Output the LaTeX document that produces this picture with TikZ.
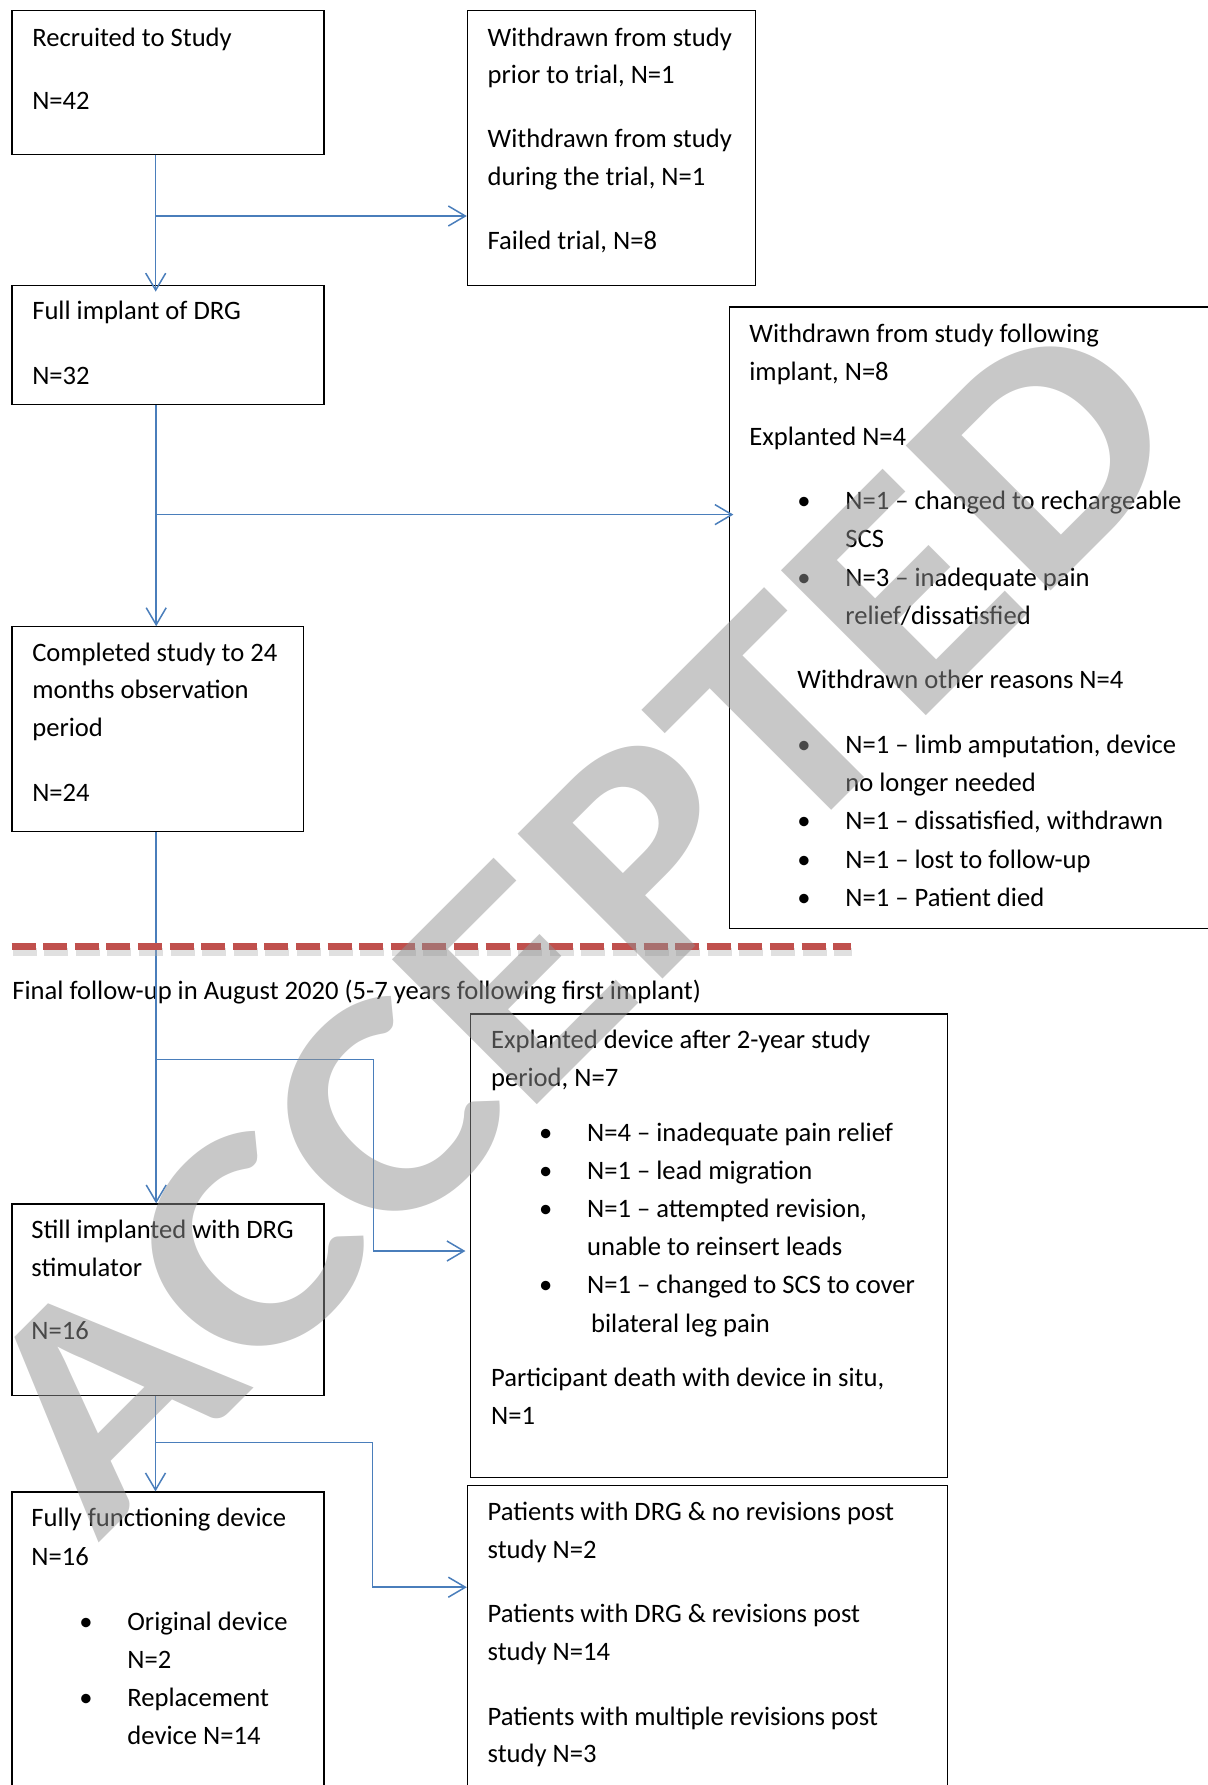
\documentclass[tikz,border=0pt]{standalone}
\usepackage{fontspec}
\setmainfont{Carlito}
\usepackage{tikz}
\usetikzlibrary{positioning,arrows.meta}

\definecolor{flowblue}{RGB}{74,126,187}
\definecolor{cutred}{RGB}{192,80,77}
\definecolor{markgray}{RGB}{145,145,145}

\newcommand{\bul}{\hspace*{24pt}\makebox[24pt][l]{\textbullet}}
\newcommand{\bsp}{\hspace*{48pt}}

\begin{document}
\begin{tikzpicture}[x=0.5pt, y=-0.5pt,
    box/.style={draw, line width=0.6pt, inner sep=0pt, anchor=north west},
    txt/.style={inner sep=0pt, anchor=north west, align=left, font=\fontsize{13.3}{18.75}\selectfont},
    wide/.style={txt, font=\fontsize{13.3}{19.1}\selectfont},
    arr/.style={draw=flowblue, line width=0.75pt, -{Straight Barb[length=8.5pt,width=10pt]}},
    cut/.style={draw=cutred, line width=3.5pt, dash pattern=on 12pt off 3.8pt},
    cutshadow/.style={draw=black!30, line width=4pt, opacity=0.4, dash pattern=on 12pt off 3.8pt},
    stamp/.style={inner sep=0pt, text=markgray, text opacity=0.5, font=\fontsize{158}{160}\selectfont\bfseries, rotate=45, xscale=1.15}]

\useasboundingbox (0,0) rectangle (1208,1785);
\clip (0,0) rectangle (1208,1785);

% BOXES
\node[box, minimum width=156pt, minimum height=71.75pt] (recruit) at (11.4,10) {};
\node[box, minimum width=144pt, minimum height=137.5pt] (withdrawA) at (466.8,10) {};
\node[box, minimum width=156pt, minimum height=59.8pt] (implant) at (11.4,284.6) {};
\node[box, minimum width=260pt, minimum height=310.8pt] (withdrawB) at (728.6,306.3) {};
\node[box, minimum width=145.7pt, minimum height=102.45pt] (complete) at (11.4,626.2) {};
\node[box, minimum width=238.5pt, minimum height=231.65pt] (explant) at (470.2,1013.3) {};
\node[box, minimum width=156pt, minimum height=95.8pt] (still) at (11.4,1203.4) {};
\node[box, minimum width=156pt, minimum height=175pt] (fully) at (11.4,1491.4) {};
\node[box, minimum width=240.2pt, minimum height=175pt] (patients) at (466.8,1484.6) {};

% TEXT
\node[txt] (recruitT) at (31.9,19.5) {\strut Recruited to Study\\[13.1pt]N=42};
\node[txt] (withdrawAT) at (487.3,19.45) {\strut Withdrawn from study\\prior to trial, N=1\\[13.25pt]Withdrawn from study\\during the trial, N=1\\[13.25pt]Failed trial, N=8};
\node[txt] (implantT) at (31.9,292.5) {\strut Full implant of DRG\\[13.7pt]N=32};
\node[wide] (withdrawBT) at (749,315.2) {\strut Withdrawn from study following\\implant, N=8\\[13.2pt]Explanted N=4\\[13.2pt]%
  \bul N=1 -- changed to rechargeable\\\bsp SCS\\\bul N=3 -- inadequate pain\\\bsp relief/dissatisfied\\[13.2pt]%
  \hspace*{24pt}Withdrawn other reasons N=4\\[13.2pt]%
  \bul N=1 -- limb amputation, device\\\bsp no longer needed\\\bul N=1 -- dissatisfied, withdrawn\\\bul N=1 -- lost to follow-up\\\bul N=1 -- Patient died};
\node[txt] (completeT) at (31.9,634.75) {\strut Completed study to 24\\months observation\\period\\[13.75pt]N=24};
\node[txt] (finalT) at (12,972.75) {\strut Final follow-up in August 2020 (5-7 years following first implant)};
\node[wide] (explantT) at (490.7,1021.6) {\strut Explanted device after 2-year study\\period, N=7\\[8pt]%
  \bul N=4 -- inadequate pain relief\\\bul N=1 -- lead migration\\\bul N=1 -- attempted revision,\\\bsp unable to reinsert leads\\%
  \bul N=1 -- changed to SCS to cover\\\bsp\hspace*{2pt}bilateral leg pain\\[8pt]%
  Participant death with device in situ,\\N=1};
\node[txt] (stillT) at (31,1212) {\strut Still implanted with DRG\\stimulator\\[12.9pt]N=16};
\node[wide] (fullyT) at (31,1499.8) {\strut Fully functioning device\\N=16\\[13.5pt]\bul Original device\\\bsp N=2\\\bul Replacement\\\bsp device N=14};
\node[txt] (patientsT) at (487.3,1494) {\strut Patients with DRG \& no revisions post\\study N=2\\[13.6pt]Patients with DRG \& revisions post\\study N=14\\[13.6pt]Patients with multiple revisions post\\study N=3};

% ARROWS
\coordinate (f1) at (155.7,216);
\coordinate (f2) at (156.2,514.6);
\coordinate (f3) at (156.2,1059.3);
\coordinate (k3) at (373.5,1251);
\coordinate (f4) at (155.5,1442.3);
\coordinate (k4) at (372.5,1587.2);
\draw[arr, shorten >=-3.5pt] (f1 |- recruit.south) -- (f1 |- implant.north);
\draw[arr] (f1) -- (f1 -| withdrawA.west);
\draw[arr] (f2 |- implant.south) -- (f2 |- complete.north);
\draw[arr, shorten >=-2.4pt] (f2) -- (f2 -| withdrawB.west);
\draw[arr] (f3 |- complete.south) -- (f3 |- still.north);
\draw[arr, shorten >=2.4pt] (f3) -| (k3) -- (k3 -| explant.west);
\draw[arr] (f4 |- still.south) -- (f4 |- fully.north);
\draw[arr] (f4) -| (k4) -- (k4 -| patients.west);

% CUT LINE
\coordinate (cutL) at (11.5,946.7);
\coordinate (cutR) at (851,946.7);
\draw[cutshadow] ([shift={(1,5)}]cutL) -- ([shift={(1,5)}]cutR);
\draw[cut] (cutL) -- (cutR);

% WATERMARK
\node[stamp] (mark) at (576,921) {ACCEPTED};
\end{tikzpicture}
\end{document}
